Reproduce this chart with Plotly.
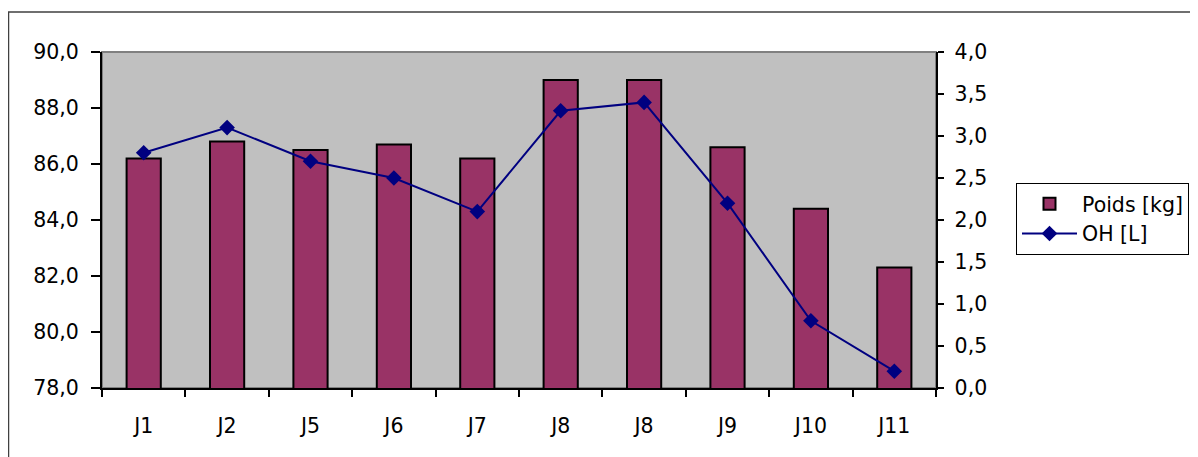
import plotly.graph_objects as go

categories = ["J1", "J2", "J5", "J6", "J7", "J8", "J8", "J9", "J10", "J11"]
poids_kg = [86.2, 86.8, 86.5, 86.7, 86.2, 89.0, 89.0, 86.6, 84.4, 82.3]
oh_l = [2.8, 3.1, 2.7, 2.5, 2.1, 3.3, 3.4, 2.2, 0.8, 0.2]

x_pos = list(range(len(categories)))

FONT = "DejaVu Sans"
FS = 20.5
# page has 8px body margin -> figure coords = page coords - 8
L, T = 94, 44
PR, PB = 928, 380
W, H = 1198, 457
px_w, px_h = PR - L, PB - T

fig = go.Figure()
fig.add_trace(go.Bar(
    x=x_pos, y=poids_kg, name="Poids [kg]",
    marker=dict(color="#993366", line=dict(color="#000000", width=2)),
    yaxis="y",
))
fig.add_trace(go.Scatter(
    x=x_pos, y=oh_l, name="OH [L]", mode="lines+markers",
    line=dict(color="#000080", width=2),
    marker=dict(symbol="diamond", size=12, color="#000080"),
    yaxis="y2",
))

# outer chart border
fig.add_shape(type="rect", xref="paper", yref="paper",
              x0=(0.5 - L) / px_w, x1=(1300 - L) / px_w,
              y0=(PB - 600) / px_h, y1=(PB - 4) / px_h,
              line=dict(color="#404040", width=1.5), layer="below")
# plot area border (top grey)
fig.add_shape(type="rect", xref="paper", yref="paper", x0=0, x1=1, y0=0, y1=1,
              line=dict(color="#808080", width=2), layer="below")

fig.update_layout(
    width=W, height=H,
    margin=dict(l=L, r=W - PR, t=T, b=H - PB, autoexpand=False),
    paper_bgcolor="#FFFFFF", plot_bgcolor="#C0C0C0",
    separators=", ",
    font=dict(family=FONT, size=FS, color="#000000"),
    bargap=0.59,
    showlegend=True,
    legend=dict(x=(1008 - L) / px_w, y=(PB - 175) / px_h,
                xanchor="left", yanchor="top",
                bgcolor="#FFFFFF", bordercolor="#000000", borderwidth=1,
                font=dict(family=FONT, size=FS, color="#000000"),
                itemwidth=55, traceorder="normal"),
    xaxis=dict(
        range=[-0.5, len(categories) - 0.5],
        tickmode="array", tickvals=x_pos, ticktext=categories,
        ticks="", showgrid=False, zeroline=False,
        showline=True, linecolor="#000000", linewidth=2,
        ticklabelstandoff=18,
        minor=dict(ticks="outside", tick0=-0.5, dtick=1, ticklen=7,
                   tickcolor="#000000", tickwidth=1.5, showgrid=False),
    ),
    yaxis=dict(
        range=[78, 90], dtick=2, tick0=78, tickformat=".1f",
        ticks="outside", ticklen=9, tickcolor="#000000", tickwidth=1.5,
        showgrid=False, zeroline=False,
        showline=True, linecolor="#000000", linewidth=2,
        ticklabelstandoff=8,
    ),
    yaxis2=dict(
        range=[0, 4], dtick=0.5, tick0=0, tickformat=".1f",
        overlaying="y", side="right",
        ticks="outside", ticklen=6, tickcolor="#000000", tickwidth=1.5,
        showgrid=False, zeroline=False,
        showline=True, linecolor="#000000", linewidth=2,
        tickprefix="\u00a0",
    ),
)

fig.write_html("out.html")
